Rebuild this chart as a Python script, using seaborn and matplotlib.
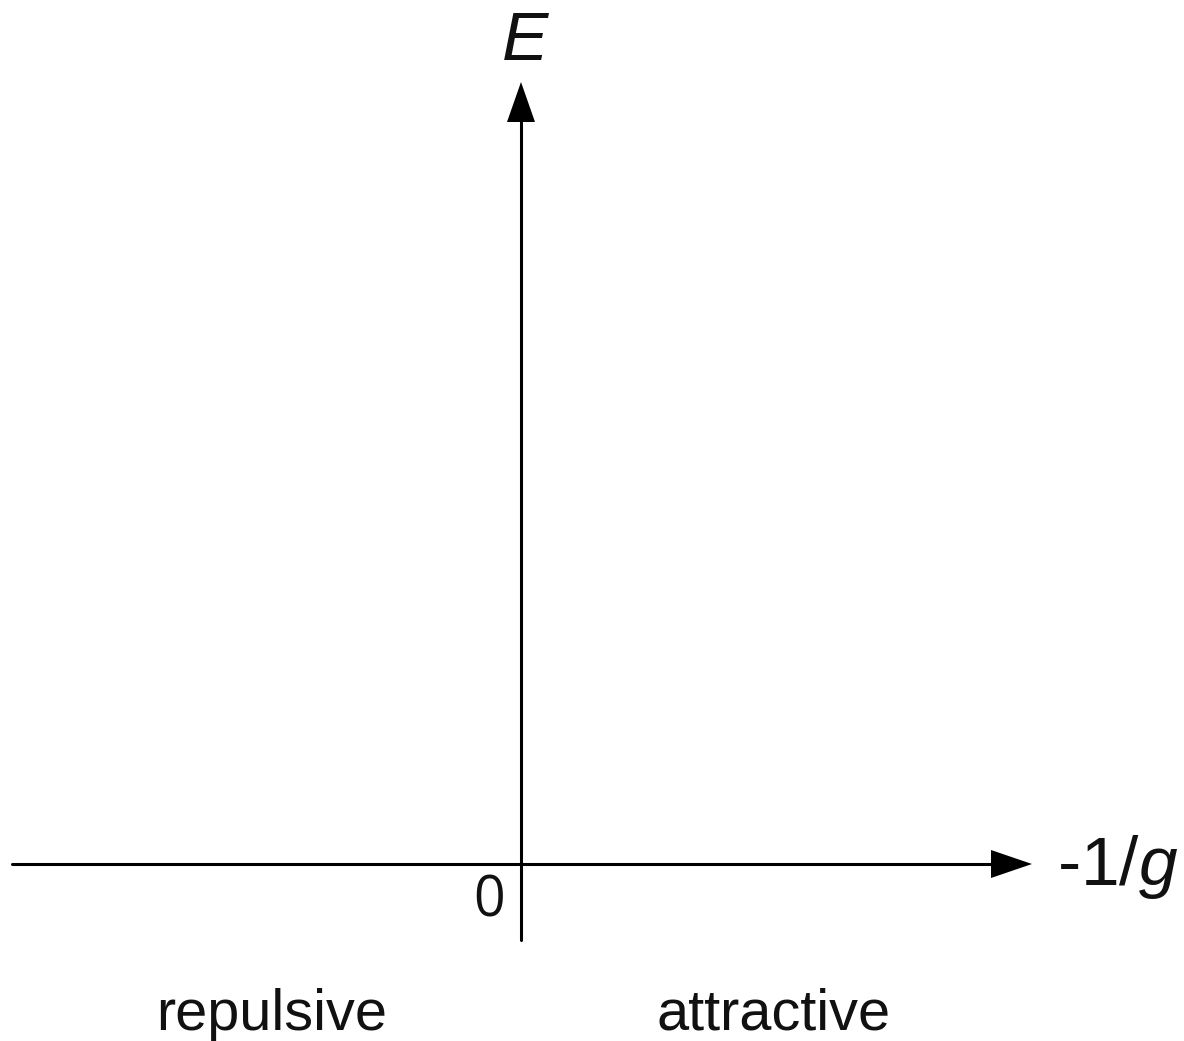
import numpy as np
import pandas as pd
import matplotlib
matplotlib.use("Agg")
import matplotlib.pyplot as plt
import seaborn as sns

# Axis extents (origin at 0, units in drawing space)
x_axis_ends = [-509, 511]      # horizontal axis: left end, arrow tip
y_axis_ends = [-76, 782]       # vertical axis: bottom end, arrow tip
arrow_len = [41, 40]           # arrowhead length (x-arrow, y-arrow)
arrow_half_width = [14, 14]    # arrowhead half width

x_label = "-1/$\\mathit{g}$"
y_label = "E"
origin_label = "0"
region_labels = ["repulsive", "attractive"]
region_centers = [-249, 253]

sns.set_theme(style="white")
plt.rcParams["font.family"] = ["Liberation Sans", "DejaVu Sans"]
plt.rcParams["mathtext.fontset"] = "custom"
plt.rcParams["mathtext.rm"] = "Liberation Sans"
plt.rcParams["mathtext.it"] = "Liberation Sans:italic"

fig = plt.figure(figsize=(11.84, 10.41), dpi=100)
ax = fig.add_axes([0, 0, 1, 1])
ax.set_xlim(-521, 663)
ax.set_ylim(-177, 864)
ax.axis("off")

lw = 2.2
# Horizontal axis line (stops at arrowhead base)
hx = pd.DataFrame({"x": [x_axis_ends[0], x_axis_ends[1] - arrow_len[0]], "y": [0, 0]})
sns.lineplot(data=hx, x="x", y="y", ax=ax, color="black", linewidth=lw, sort=False)
# Vertical axis line
vy = pd.DataFrame({"x": [0, 0], "y": [y_axis_ends[0], y_axis_ends[1] - arrow_len[1]]})
sns.lineplot(data=vy, x="x", y="y", ax=ax, color="black", linewidth=lw,
             sort=False, orient="y")

# Arrowheads
tip = x_axis_ends[1]
ax.fill([tip, tip - arrow_len[0], tip - arrow_len[0]],
        [0, arrow_half_width[0], -arrow_half_width[0]], color="black", lw=0)
tip = y_axis_ends[1]
ax.fill([0, arrow_half_width[1], -arrow_half_width[1]],
        [tip, tip - arrow_len[1], tip - arrow_len[1]], color="black", lw=0)

# Labels
ax.text(4, 804, y_label, fontsize=50, fontstyle="italic", ha="center",
        va="baseline", color="#111111")
ax.text(536, -21, x_label, fontsize=50, ha="left", va="baseline", color="#111111")
ax.text(-32, -38, origin_label, fontsize=40, family=["Open Sans", "DejaVu Sans"],
        ha="center", va="center", color="#111111")
for cx, lab in zip(region_centers, region_labels):
    ax.text(cx, -166, lab, fontsize=41.5, ha="center", va="baseline", color="#111111")

fig.savefig("out.png", dpi=100, facecolor="white")
